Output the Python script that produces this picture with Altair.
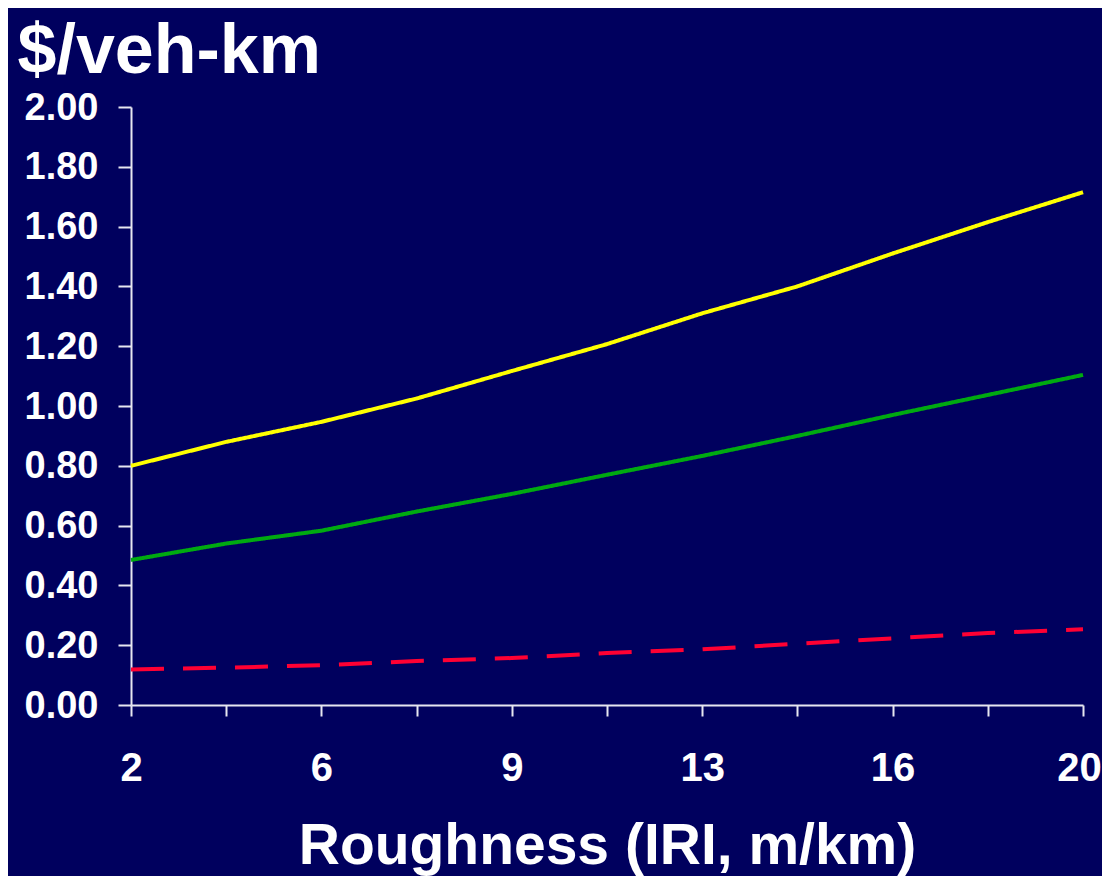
import altair as alt
import pandas as pd

# Roughness (IRI, m/km) values at each data point
iri = [2, 3.8, 5.6, 7.4, 9.2, 11, 12.8, 14.6, 16.4, 18.2, 20]
# Series values ($/veh-km)
yellow_vals = [0.80, 0.88, 0.947, 1.025, 1.117, 1.207, 1.31, 1.40, 1.51, 1.615, 1.715]
green_vals = [0.485, 0.54, 0.583, 0.647, 0.706, 0.77, 0.833, 0.90, 0.97, 1.037, 1.104]
red_vals = [0.119, 0.125, 0.133, 0.147, 0.157, 0.174, 0.186, 0.205, 0.223, 0.241, 0.253]

series_names = ["A", "B", "C"]
series_colors = ["#FFFF00", "#00AA11", "#FF0033"]
y_ticks = [0.0, 0.2, 0.4, 0.6, 0.8, 1.0, 1.2, 1.4, 1.6, 1.8, 2.0]

rows = []
for name, vals in zip(series_names, [yellow_vals, green_vals, red_vals]):
    for x, v in zip(iri, vals):
        rows.append({"iri": x, "cost": v, "series": name})
df = pd.DataFrame(rows)

FONT = "Liberation Sans"
AXIS_COLOR = "#E6E6F0"

chart = alt.Chart(df).mark_line(strokeWidth=4, strokeCap="butt").encode(
    x=alt.X(
        "iri:Q",
        scale=alt.Scale(domain=[2, 20], nice=False, zero=False),
        axis=alt.Axis(
            values=iri,
            grid=False,
            labelExpr="round((datum.value - 2) / 1.8) % 2 == 0 ? format(datum.value, '.0f') : ''",
            labelFont=FONT,
            labelFontWeight="bold",
            labelFontSize=40,
            labelColor="white",
            labelBaseline="alphabetic",
            labelPadding=64,
            labelOffset=alt.condition("datum.value >= 20", alt.value(-4), alt.value(0)),
            labelFlush=False,
            labelOverlap=False,
            tickSize=11,
            tickWidth=2,
            tickColor=AXIS_COLOR,
            domainColor=AXIS_COLOR,
            domainWidth=2,
            title="Roughness (IRI, m/km)",
            titleFont=FONT,
            titleFontWeight="bold",
            titleFontSize=57,
            titleColor="white",
            titleX=476,
            titleY=158,
            titleAlign="center",
            titleBaseline="alphabetic",
        ),
    ),
    y=alt.Y(
        "cost:Q",
        scale=alt.Scale(domain=[0, 2], nice=False),
        axis=alt.Axis(
            values=y_ticks,
            format=".2f",
            grid=False,
            labelFont=FONT,
            labelFontWeight="bold",
            labelFontSize=38,
            labelColor="white",
            labelPadding=20,
            labelBaseline="middle",
            labelOffset=1,
            labelFlush=False,
            labelOverlap=False,
            tickSize=13,
            tickWidth=2,
            tickColor=AXIS_COLOR,
            domainColor=AXIS_COLOR,
            domainWidth=2,
            title="$/veh-km",
            titleFont=FONT,
            titleFontWeight="bold",
            titleFontSize=70,
            titleColor="white",
            titleAngle=0,
            titleX=-114,
            titleY=-35,
            titleAlign="left",
            titleBaseline="alphabetic",
        ),
    ),
    color=alt.Color(
        "series:N",
        scale=alt.Scale(domain=series_names, range=series_colors),
        legend=None,
    ),
    strokeDash=alt.StrokeDash(
        "series:N",
        scale=alt.Scale(domain=series_names, range=[[1, 0], [1, 0], [33, 19]]),
        legend=None,
    ),
).properties(
    width=952,
    height=598,
    autosize=alt.AutoSizeParams(type="none"),
    padding={"left": 123, "top": 99, "right": 19, "bottom": 171},
    background="#00005E",
).configure_view(stroke=None)

chart.save("out.html", embed_options={"renderer": "svg", "actions": False})
